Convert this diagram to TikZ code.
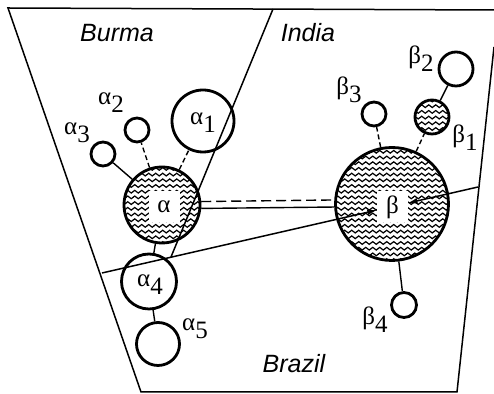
\documentclass[tikz,border=0pt]{standalone}
\usepackage{fontspec}
\setmainfont{Liberation Serif}
\setsansfont{Liberation Sans}
\usetikzlibrary{patterns,arrows.meta,calc}

\pgfdeclarepatternformonly{waves}{\pgfpoint{-1pt}{-1pt}}{\pgfpoint{4.5pt}{3.85pt}}{\pgfpoint{3.5pt}{2.85pt}}{
  \pgfsetlinewidth{0.6pt}
  \pgfsetroundcap
  \pgfpathmoveto{\pgfpoint{0pt}{1.4pt}}
  \pgfpathcurveto{\pgfpoint{0.63pt}{2.3pt}}{\pgfpoint{1.12pt}{2.3pt}}{\pgfpoint{1.75pt}{1.4pt}}
  \pgfpathcurveto{\pgfpoint{2.38pt}{0.5pt}}{\pgfpoint{2.87pt}{0.5pt}}{\pgfpoint{3.5pt}{1.4pt}}
  \pgfusepath{stroke}
}

\newcommand{\subdig}[1]{\raisebox{-0.32em}{#1}}

\begin{document}
\begin{tikzpicture}[x=0.5pt,y=-0.5pt,
  ring/.style={circle, draw, line width=1.4pt, inner sep=0pt},
  wavy/.style={ring, pattern=waves},
  tag/.style={font=\fontsize{12.5}{14}\selectfont, inner sep=0pt},
  land/.style={font=\sffamily\itshape\fontsize{12.5}{14}\selectfont, inner sep=0pt},
  edge/.style={line width=0.75pt},
  link/.style={line width=0.7pt},
  dlink/.style={link, dash pattern=on 2.5pt off 1.5pt}]

  \useasboundingbox (0,0) rectangle (494,394);

  % map outline
  \draw[edge] (494,10) -- (8,8) -- (141,392) -- (457,392) -- (494,47);

  % countries
  \node[land] (burma) at (117,33) {Burma};
  \node[land] (india) at (308,33) {India};
  \node[land] (brazil) at (294,364) {Brazil};

  % big clusters
  \node[wavy, minimum size=38pt] (a) at (162,205) {};
  \node[wavy, minimum size=56.5pt] (b) at (392,204) {};
  \node[wavy, minimum size=17pt] (b1) at (432,117) {};
  \node[tag, fill=white, minimum size=15.5pt] (la) at (164,207) {α};
  \node[tag, fill=white, minimum size=15.5pt] (lb) at (392.5,207) {β};

  % small rings
  \foreach \n/\x/\y/\d in {a1/203/121/31, a2/137/130/12, a3/103/154/12,
                           a4/149/281.5/27.5, a5/158/344/21.5,
                           b2/456/69/17, b3/374/114/12, b4/404/305/12.5}
    \node[ring, minimum size=\d pt] (\n) at (\x,\y) {};

  % labels
  \node[tag] (la1) at (203,123) {α\subdig{1}};
  \node[tag] (la2) at (111,103) {α\subdig{2}};
  \node[tag] (la3) at (77,133) {α\subdig{3}};
  \node[tag] (la4) at (150,285) {α\subdig{4}};
  \node[tag] (la5) at (195,329) {α\subdig{5}};
  \node[tag] (lb1) at (465,138) {β\subdig{1}};
  \node[tag] (lb2) at (421,59) {β\subdig{2}};
  \node[tag] (lb3) at (349,90) {β\subdig{3}};
  \node[tag] (lb4) at (375,320) {β\subdig{4}};

  % borders
  \coordinate (top) at (273,9);
  \coordinate (mid) at (171,257);
  \coordinate (bzl) at (102,273);
  \coordinate (bzr) at (478,187);
  \draw[edge] (top) -- (mid);
  \draw[edge, -{Latex[length=5pt,width=3pt]}] (bzl) -- ($(bzl)!(lb.west)!(bzr)$);
  \draw[edge, -{Latex[length=5pt,width=3pt]}] (bzr) -- ($(bzl)!(lb.east)!(bzr)$);

  % links
  \draw[dlink] (a) -- (a1);
  \draw[dlink] (a) -- (a2);
  \draw[link] (a) -- (a3);
  \draw[link] (a) -- (a4);
  \draw[link] (a4) -- (a5);
  \draw[dlink] (b) -- (b1);
  \draw[link] (b1) -- (b2);
  \draw[dlink] (b) -- (b3);
  \draw[link] (b) -- (b4);
  \draw[link, dash pattern=on 5pt off 2.5pt] (a.5.5) -- (b.176.3);
  \draw[link] (a.-5.5) -- (b.183.7);
\end{tikzpicture}
\end{document}
